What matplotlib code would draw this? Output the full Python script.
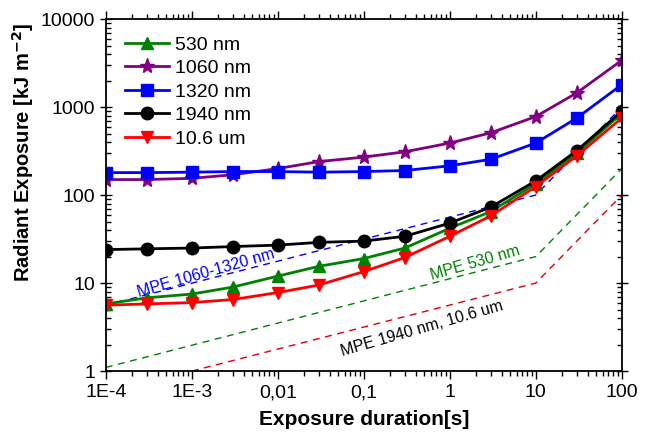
import numpy as np
import matplotlib.pyplot as plt
from matplotlib.ticker import FixedLocator, LogLocator, NullFormatter

plt.rcParams['font.family'] = ['Liberation Sans', 'DejaVu Sans']

# exposure durations [s]
t = [1e-4, 3e-4, 1e-3, 3e-3, 1e-2, 3e-2, 0.1, 0.3, 1, 3, 10, 30, 100]

h_530 = [5.8, 6.8, 7.5, 9.0, 12, 15.5, 19, 25, 42, 65, 135, 300, 850]
h_1060 = [150, 150, 155, 170, 200, 240, 270, 310, 390, 510, 780, 1450, 3400]
h_1320 = [180, 180, 182, 185, 185, 182, 185, 190, 215, 255, 390, 750, 1800]
h_1940 = [24, 24.5, 25, 26, 27, 29, 30, 34, 48, 73, 145, 320, 900]
h_10um = [5.6, 5.8, 6.0, 6.5, 7.8, 9.5, 13.5, 19.5, 34, 58, 125, 280, 750]

# MPE limits
mpe_t = [1e-4, 10, 100]
mpe_1060_1320 = [5.6, 100, 1000]
mpe_530 = [1.1, 20, 200]
mpe_far_t = [1e-3, 10, 100]
mpe_1940 = [1.0, 10, 100]

xticks = [1e-4, 1e-3, 1e-2, 0.1, 1, 10, 100]
xticklabels = ['1E-4', '1E-3', '0,01', '0,1', '1', '10', '100']
yticks = [1, 10, 100, 1000, 10000]
yticklabels = ['1', '10', '100', '1000', '10000']

fig = plt.figure(figsize=(6.45, 4.33), dpi=100)
ax = fig.add_axes([0.164, 0.143, 0.8, 0.813])

ax.plot(mpe_t, mpe_1060_1320, '--', color='#0000ff', lw=1, dashes=(5, 4))
ax.plot(mpe_t, mpe_530, '--', color='#008000', lw=1, dashes=(5, 4))
ax.plot(mpe_far_t, mpe_1940, '--', color='#dd0000', lw=1, dashes=(5, 4))

ax.plot(t, h_530, '-^', color='#008000', lw=2, ms=9, label='530 nm')
ax.plot(t, h_1060, '-*', color='#800080', lw=2, ms=11, label='1060 nm')
ax.plot(t, h_1320, '-s', color='#0000ff', lw=2, ms=8, label='1320 nm')
ax.plot(t, h_1940, '-o', color='black', lw=2, ms=9, label='1940 nm')
ax.plot(t, h_10um, '-v', color='#ff0000', lw=2, ms=9, label='10.6 um')

ax.set_xscale('log')
ax.set_yscale('log')
ax.set_xlim(1e-4, 100)
ax.set_ylim(1, 10000)

ax.xaxis.set_major_locator(FixedLocator(xticks))
ax.set_xticklabels(xticklabels)
ax.yaxis.set_major_locator(FixedLocator(yticks))
ax.set_yticklabels(yticklabels)
ax.xaxis.set_minor_locator(LogLocator(base=10, subs=np.arange(2, 10), numticks=20))
ax.yaxis.set_minor_locator(LogLocator(base=10, subs=np.arange(2, 10), numticks=20))
ax.xaxis.set_minor_formatter(NullFormatter())
ax.yaxis.set_minor_formatter(NullFormatter())

ax.tick_params(which='both', top=True, right=True, labelsize=14, width=1)
ax.tick_params(axis='x', which='major', direction='out', length=6)
ax.tick_params(axis='x', which='minor', direction='out', length=3.5)
ax.tick_params(axis='y', which='major', direction='inout', length=8)
ax.tick_params(axis='y', which='minor', direction='in', length=3.5)
for s in ax.spines.values():
    s.set_linewidth(1.3)

ax.set_xlabel('Exposure duration[s]', fontsize=15, fontweight='bold', labelpad=6)
ax.set_ylabel('Radiant Exposure [kJ m$^{\\mathbf{-2}}$]', fontsize=14.5, fontweight='bold')
ax.yaxis.set_label_coords(-0.136, 0.622)

ax.text(1.45e-3, 13, 'MPE 1060-1320 nm', color='#0000ff', fontsize=11.5, rotation=16,
        ha='center', va='center', rotation_mode='anchor')
ax.text(1.95, 17, 'MPE 530 nm', color='#008000', fontsize=11.5, rotation=16,
        ha='center', va='center', rotation_mode='anchor')
ax.text(0.47, 3.0, 'MPE 1940 nm, 10.6 um', color='black', fontsize=11.5, rotation=16,
        ha='center', va='center', rotation_mode='anchor')

ax.legend(loc='upper left', bbox_to_anchor=(0.01, 0.99), frameon=False, fontsize=14,
          handlelength=2.3, labelspacing=0.3, handletextpad=0.3, borderaxespad=0.3)

fig.savefig('out.png', dpi=100)
